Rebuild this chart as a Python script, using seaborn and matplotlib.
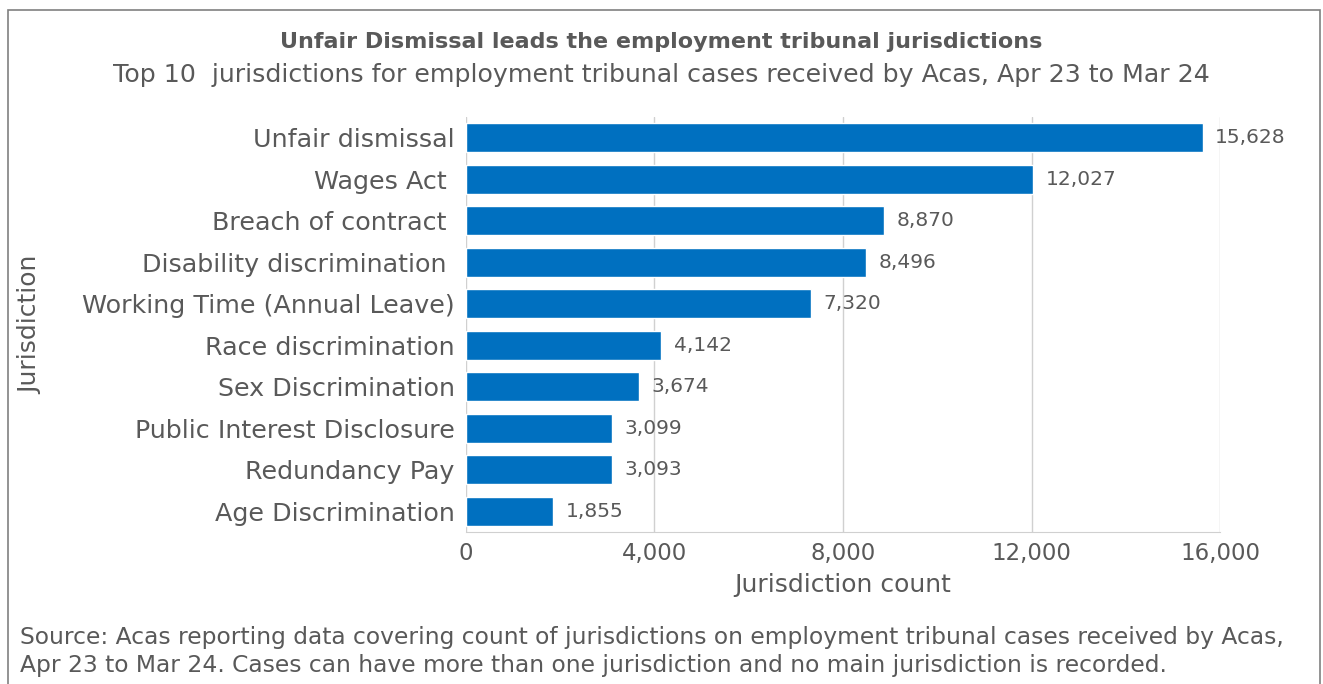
import seaborn as sns
import pandas as pd
import matplotlib.pyplot as plt
from matplotlib.patches import Rectangle

jurisdictions = ["Unfair dismissal", "Wages Act ", "Breach of contract ", "Disability discrimination ",
                 "Working Time (Annual Leave)", "Race discrimination", "Sex Discrimination",
                 "Public Interest Disclosure", "Redundancy Pay", "Age Discrimination"]
counts = [15628, 12027, 8870, 8496, 7320, 4142, 3674, 3099, 3093, 1855]
xticks = [0, 4000, 8000, 12000, 16000]

df = pd.DataFrame({"Jurisdiction": jurisdictions, "Count": counts})

sns.set_style("white")
plt.rcParams['font.family'] = ['DejaVu Sans']
grey = "#595959"

fig = plt.figure(figsize=(13.23, 6.84), dpi=100)
ax = fig.add_axes([0.3522, 0.2222, 0.570, 0.607])

sns.barplot(data=df, x="Count", y="Jurisdiction", color="#0070C0", width=0.7,
            saturation=1, ax=ax, zorder=3)

# labels at bar ends
for i, v in enumerate(counts):
    ax.text(v + 270, i, f"{v:,}", va="center", ha="left", fontsize=14.5, color=grey)

ax.set_xlim(0, 16000)
ax.set_xticks(xticks)
ax.set_xticklabels([f"{t:,}" for t in xticks], fontsize=16.5, color=grey)
ax.tick_params(axis="y", labelsize=18.3, colors=grey, length=0, pad=8)
ax.tick_params(axis="x", length=0, pad=7)
ax.xaxis.grid(True, color="#d0d0d0", lw=1, zorder=0)
for s in ["top", "right", "left"]:
    ax.spines[s].set_visible(False)
ax.spines["bottom"].set_color("#d0d0d0")

ax.set_xlabel("Jurisdiction count", fontsize=18, color=grey, labelpad=6)
ax.set_ylabel("")
fig.text(0.023, 0.525, "Jurisdiction", rotation=90, fontsize=18, color=grey,
         ha="center", va="center")

fig.text(0.5, 0.938, "Unfair Dismissal leads the employment tribunal jurisdictions",
         ha="center", va="center", fontsize=16, fontweight="bold", color=grey)
fig.text(0.5, 0.891, "Top 10  jurisdictions for employment tribunal cases received by Acas, Apr 23 to Mar 24",
         ha="center", va="center", fontsize=18.2, color=grey)

fig.text(0.015, 0.068, "Source: Acas reporting data covering count of jurisdictions on employment tribunal cases received by Acas,",
         ha="left", va="center", fontsize=16.8, color=grey)
fig.text(0.015, 0.027, "Apr 23 to Mar 24. Cases can have more than one jurisdiction and no main jurisdiction is recorded.",
         ha="left", va="center", fontsize=16.8, color=grey)

fig.patches.append(Rectangle((8 / 1323, -0.05), (1320 - 8) / 1323, 1.05 - 10 / 684,
                             transform=fig.transFigure, fill=False, edgecolor="#808080", lw=1.2))

fig.savefig("out.png", dpi=100)
